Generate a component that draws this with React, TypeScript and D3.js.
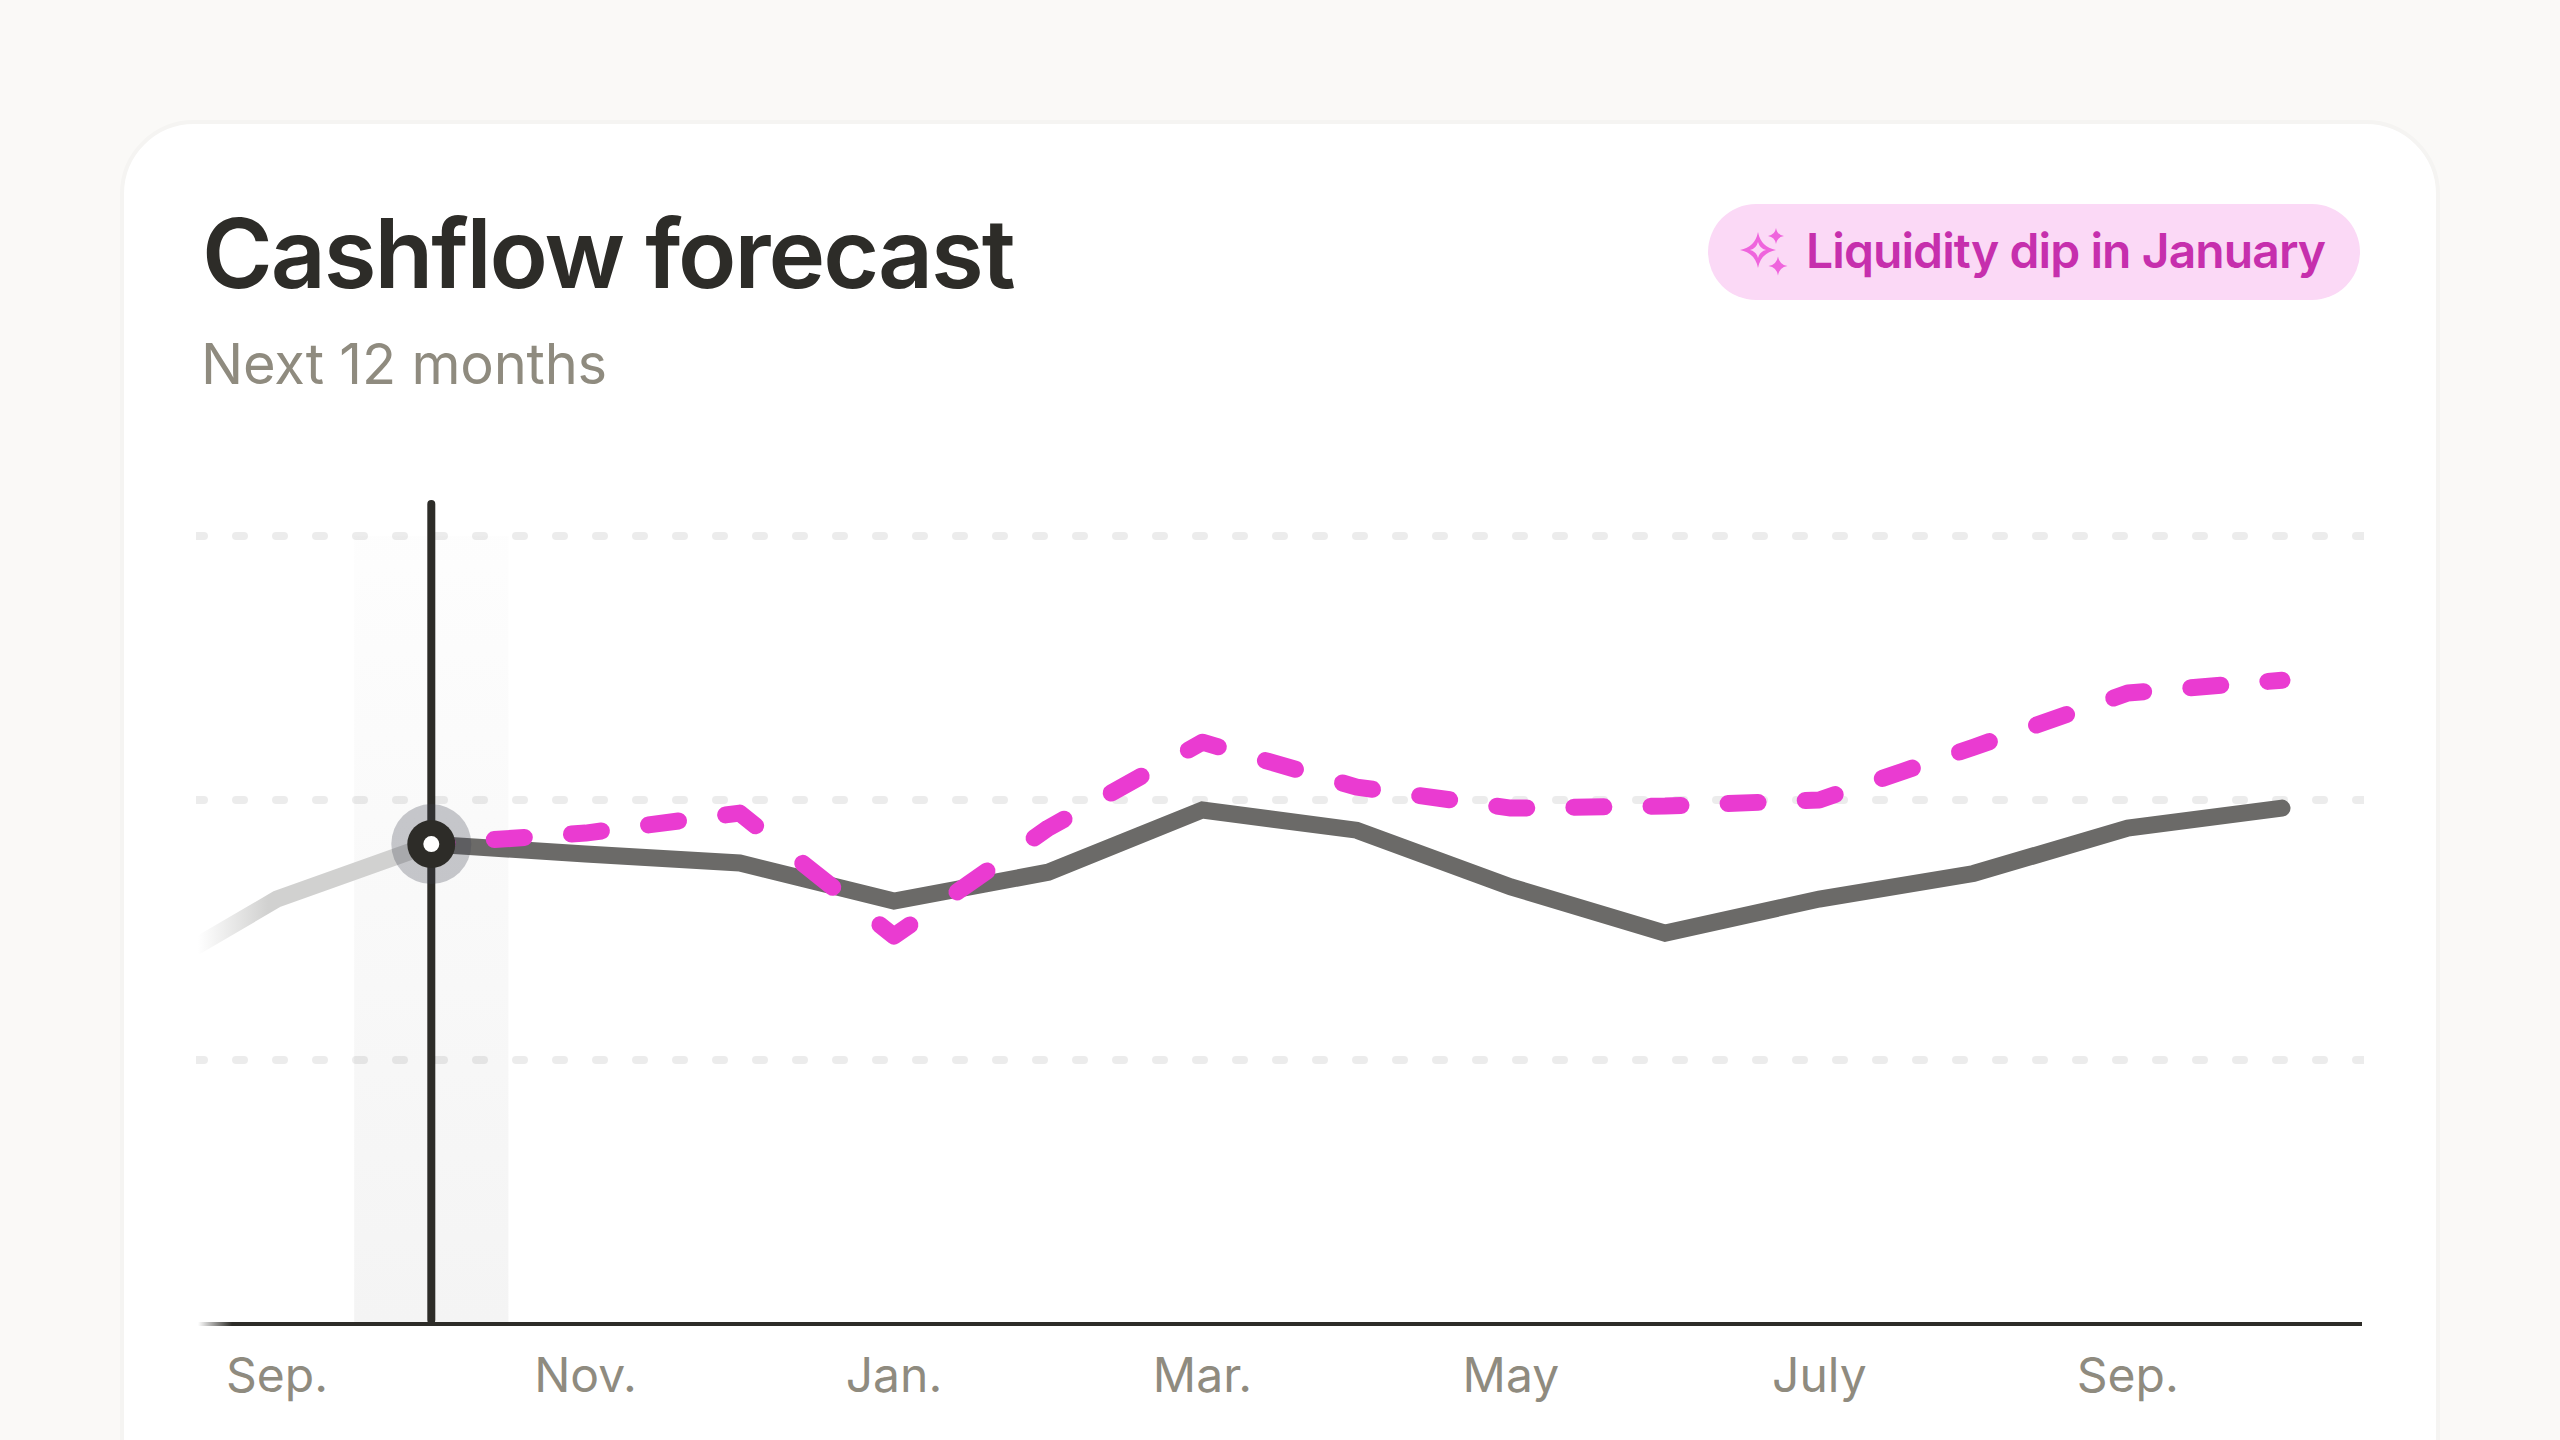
import React from "react";
import * as d3 from "d3";

// Data (units)
const actualPast = [127.5, 161.8, 182.7];
const actualFuture = [182.7, 178.9, 175.5, 161, 172, 195.7, 188, 166.4, 148.8, 161.8, 171.5, 188.8, 196.4];
const forecast = [182.7, 186.9, 194.5, 147.7, 188.8, 221.5, 204.4, 196.4, 197.2, 199.5, 219.6, 240.2, 245.1];
const gridValues = [100.5, 199.5, 300];
const tickLabels = ["Sep.", "Nov.", "Jan.", "Mar.", "May", "July", "Sep."];
const tickIndexes = [1, 3, 5, 7, 9, 11, 13];
const hoverIndex = 2;

const FONT = "Inter, sans-serif";
const INK = "#2d2c28";
const MUTED = "#8f8b7f";
const GRAY = "#6b6a68";
const PINK = "#ea3bd1";

const x = d3.scaleLinear().domain([2, 14]).range([431.3, 2282]);
const y = d3.scaleLinear().domain([0, 300]).range([1324, 536]);

const line = d3.line<[number, number]>().x((d) => d[0]).y((d) => d[1]);
const toScreen = (vals: number[], start: number) =>
  vals.map((v, i) => [x(i + start), y(v)] as [number, number]);
const pastPts = toScreen(actualPast, 0);
const futurePts = toScreen(actualFuture, hoverIndex);
const forecastPts = toScreen(forecast, hoverIndex);

// The dashes of the forecast repeat evenly along x, whatever the slope.
const DASH_PERIOD = (x(1) - x(0)) / 2;
const DASH_LEN = 30;
const DASH_PHASE = 63;
function dashedSegments(pts: [number, number][]) {
  const xs = pts.map((p) => p[0]);
  const ys = pts.map((p) => p[1]);
  const at = d3.scaleLinear().domain(xs).range(ys);
  const out: string[] = [];
  const x0 = xs[0];
  const x1 = xs[xs.length - 1];
  for (let a = x0 + DASH_PHASE - DASH_PERIOD; a < x1; a += DASH_PERIOD) {
    const s = Math.max(a, x0);
    const e = Math.min(a + DASH_LEN, x1);
    const inner = pts.filter((p) => p[0] > s && p[0] < e);
    const seg: [number, number][] = [[s, at(s)], ...inner, [e, at(e)]];
    out.push(line(seg) ?? "");
  }
  return out;
}

function star(cx: number, cy: number, r: number, k = 0.14) {
  const c = r * k;
  return `M${cx},${cy - r}Q${cx + c},${cy - c} ${cx + r},${cy}Q${cx + c},${cy + c} ${cx},${cy + r}Q${cx - c},${cy + c} ${cx - r},${cy}Q${cx - c},${cy - c} ${cx},${cy - r}Z`;
}

export default function App() {
  const hx = x(hoverIndex);
  const hy = y(actualFuture[0]);
  const step = x(1) - x(0);
  return (
    <svg width={2560} height={1440} viewBox="0 0 2560 1440" style={{ position: "absolute", left: 0, top: 0, display: "block" }}>
      <defs>
        <linearGradient id="band" x1="0" y1="0" x2="0" y2="1">
          <stop offset="0" stopColor="#f4f4f4" stopOpacity="0.15" />
          <stop offset="1" stopColor="#f4f4f4" />
        </linearGradient>
        <linearGradient id="pastFade" gradientUnits="userSpaceOnUse" x1="198" y1="0" x2="268" y2="0">
          <stop offset="0" stopColor="#d1d1d0" stopOpacity="0" />
          <stop offset="1" stopColor="#d1d1d0" />
        </linearGradient>
        <linearGradient id="axisFade" gradientUnits="userSpaceOnUse" x1="198" y1="0" x2="232" y2="0">
          <stop offset="0" stopColor={INK} stopOpacity="0" />
          <stop offset="1" stopColor={INK} />
        </linearGradient>
        <clipPath id="plot">
          <rect x={196} y={480} width={2168} height={900} />
        </clipPath>
      </defs>

      <rect width={2560} height={1440} fill="#faf9f7" />
      <rect x={122} y={122} width={2316} height={1400} rx={72} fill="#ffffff" stroke="#f5f4f2" strokeWidth={4} />

      <text x={202} y={288} fontFamily={FONT} fontSize={96} fontWeight={600} letterSpacing={-2.05} fill={INK}>Cashflow forecast</text>
      <text x={201} y={384} fontFamily={FONT} fontSize={56} fontWeight={400} letterSpacing={-0.2} fill={MUTED}>Next 12 months</text>

      <rect x={1708} y={204} width={652} height={96} rx={48} fill="#fbd9f6" />
      <path d={star(1758, 250, 18, 0.16) + star(1758, 250, 8, 0.2)} fill="#ef65dd" fillRule="evenodd" />
      <path d={star(1776, 236, 8)} fill="#ef65dd" />
      <path d={star(1778, 266, 9.5)} fill="#ef65dd" />
      <text x={1806} y={268} fontFamily={FONT} fontSize={48} fontWeight={600} letterSpacing={-0.9} fill="#c62fad">Liquidity dip in January</text>

      <rect x={hx - step / 2} y={536} width={step} height={1322 - 536} fill="url(#band)" />

      <g clipPath="url(#plot)">
        {gridValues.map((v) => (
          <line key={v} x1={196} x2={2364} y1={y(v)} y2={y(v)} stroke={INK} strokeOpacity={0.09} strokeWidth={8} strokeLinecap="round" strokeDasharray="8 32" />
        ))}
        <line x1={196} x2={2362} y1={1324} y2={1324} stroke="url(#axisFade)" strokeWidth={4} />
        <path d={line(pastPts) ?? ""} fill="none" stroke="url(#pastFade)" strokeWidth={17} strokeLinejoin="miter" />
      </g>

      <path d={line(futurePts) ?? ""} fill="none" stroke={GRAY} strokeWidth={17} strokeLinecap="round" strokeLinejoin="miter" />
      {dashedSegments(forecastPts).map((d, i) => (
        <path key={i} d={d} fill="none" stroke={PINK} strokeWidth={17} strokeLinecap="round" strokeLinejoin="round" />
      ))}

      <line x1={hx} x2={hx} y1={504} y2={1320} stroke={INK} strokeWidth={8} strokeLinecap="round" />
      <circle cx={hx} cy={hy} r={40} fill="#3c4150" fillOpacity={0.28} />
      <circle cx={hx} cy={hy} r={24} fill={INK} />
      <circle cx={hx} cy={hy} r={8} fill="#ffffff" />

      {tickLabels.map((t, i) => (
        <text key={i} x={x(tickIndexes[i])} y={1392} textAnchor="middle" fontFamily={FONT} fontSize={48} fontWeight={400} fill={MUTED}>{t}</text>
      ))}
    </svg>
  );
}
